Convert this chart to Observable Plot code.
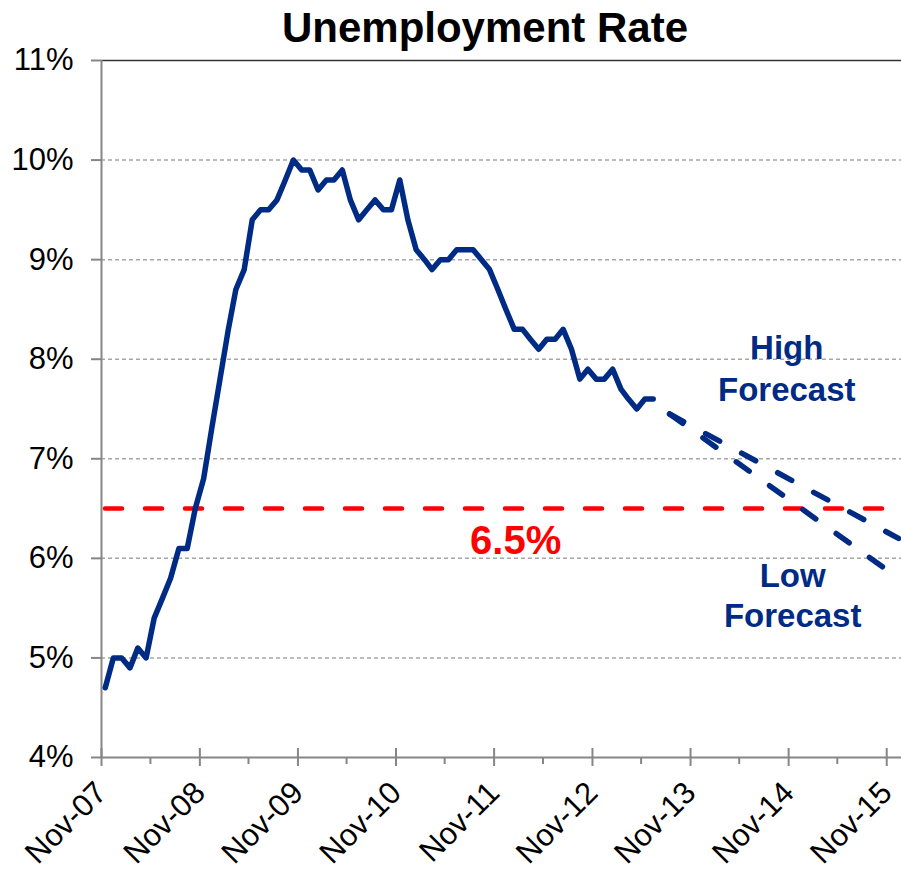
<!DOCTYPE html>
<html>
<head>
<meta charset="utf-8">
<script src="https://cdn.jsdelivr.net/npm/d3@7"></script>
<script src="https://cdn.jsdelivr.net/npm/@observablehq/plot@0.6"></script>
<style>
html, body { margin: 0; padding: 0; background: #fff; overflow: hidden; }
#wrap { position: relative; width: 901px; height: 870px; font-family: "Liberation Sans", Arial, sans-serif; }
#title { position: absolute; left: 185px; top: 7px; width: 600px; text-align: center; font-size: 42px; line-height: 42px; font-weight: bold; color: #000; }
</style>
</head>
<body>
<div id="wrap"><div id="chart"></div><div id="title">Unemployment Rate</div></div>
<script>
// Monthly unemployment rate (%), Nov 2007 – Jun 2013
const firstMonth = "2007-11";
const rate = [
  4.7, 5.0,
  5.0, 4.9, 5.1, 5.0, 5.4, 5.6, 5.8, 6.1, 6.1, 6.5, 6.8, 7.3,
  7.8, 8.3, 8.7, 8.9, 9.4, 9.5, 9.5, 9.6, 9.8, 10.0, 9.9, 9.9,
  9.7, 9.8, 9.8, 9.9, 9.6, 9.4, 9.5, 9.6, 9.5, 9.5, 9.8, 9.4,
  9.1, 9.0, 8.9, 9.0, 9.0, 9.1, 9.1, 9.1, 9.0, 8.9, 8.7, 8.5,
  8.3, 8.3, 8.2, 8.1, 8.2, 8.2, 8.3, 8.1, 7.8, 7.9, 7.8, 7.8,
  7.9, 7.7, 7.6, 7.5, 7.6, 7.6
];
// Forecast paths (start, end)
const forecastMonths = ["2013-08", "2015-12"];
const highForecast = [7.45, 6.2];
const lowForecast = [7.45, 5.8];
const threshold = 6.5;
const thresholdLabel = "6.5%";
// Axis ticks
const yTicks = [4, 5, 6, 7, 8, 9, 10, 11];
const xTickYears = [2007, 2008, 2009, 2010, 2011, 2012, 2013, 2014, 2015];
const xTickLabels = ["Nov-07", "Nov-08", "Nov-09", "Nov-10", "Nov-11", "Nov-12", "Nov-13", "Nov-14", "Nov-15"];
const minorTickYears = [2008, 2009, 2010, 2011, 2012, 2013, 2014, 2015];

const parseMonth = d3.utcParse("%Y-%m");
const mid = m => d3.utcDay.offset(parseMonth(m), 14);
const start = parseMonth(firstMonth);
const actual = rate.map((v, i) => ({date: d3.utcDay.offset(d3.utcMonth.offset(start, i), 14), value: v}));
const forecast = [
  ...forecastMonths.map((m, i) => ({date: mid(m), value: highForecast[i], series: "High"})),
  ...forecastMonths.map((m, i) => ({date: mid(m), value: lowForecast[i], series: "Low"}))
];
const xTicks = xTickYears.map(y => new Date(Date.UTC(y, 10, 1)));
const minorTicks = minorTickYears.map(y => new Date(Date.UTC(y, 4, 1)));

const navy = "#002b85";
const axisGray = "#868686";

const chart = Plot.plot({
  width: 901,
  height: 870,
  marginTop: 60,
  marginBottom: 113,
  marginLeft: 101,
  marginRight: 0,
  style: {fontFamily: "'Liberation Sans', Arial, sans-serif", background: "transparent", overflow: "visible"},
  x: {type: "utc", domain: [new Date(Date.UTC(2007, 10, 1)), new Date(Date.UTC(2015, 11, 26))]},
  y: {domain: [4, 11]},
  marks: [
    Plot.gridY(yTicks.filter(v => v > 4 && v < 11), {stroke: "#a6a6a6", strokeOpacity: 1, strokeWidth: 1.5, strokeDasharray: "4,3"}),
    Plot.ruleY([11], {stroke: "#333", strokeWidth: 1.5}),
    Plot.axisY(yTicks, {tickSize: 10, tickPadding: 18, fontSize: 31, tickFormat: d => d + "%", stroke: axisGray, strokeWidth: 2, fill: "#000", label: null}),
    Plot.axisX(xTicks, {tickSize: 0, tickPadding: 30, tickRotate: -45, fontSize: 31, tickFormat: (d, i) => xTickLabels[i], fill: "#000", label: null}),
    Plot.ruleX(xTicks, {x: d => d, stroke: axisGray, strokeWidth: 2, insetTop: 688, insetBottom: -9}),
    Plot.ruleX(minorTicks, {x: d => d, stroke: axisGray, strokeWidth: 2, insetTop: 697, insetBottom: -7}),
    Plot.ruleX([start], {stroke: axisGray, strokeWidth: 2}),
    Plot.ruleY([4], {stroke: axisGray, strokeWidth: 2}),
    Plot.ruleY([threshold], {stroke: "#ff0000", strokeWidth: 4.5, strokeDasharray: "17,23", strokeDashoffset: -4, strokeLinecap: "round"}),
    Plot.text([thresholdLabel], {x: () => new Date(Date.UTC(2012, 0, 20)), y: () => threshold, dy: 33, text: d => d, fill: "#ff0000", fontSize: 40, fontWeight: "bold", textAnchor: "middle", lineAnchor: "middle"}),
    Plot.line(actual, {x: "date", y: "value", stroke: navy, strokeWidth: 5.5, strokeLinejoin: "round", strokeLinecap: "round"}),
    Plot.line(forecast, {x: "date", y: "value", z: "series", stroke: navy, strokeWidth: 5.5, strokeDasharray: "16,25", strokeLinecap: "round"}),
    Plot.text(["High\nForecast"], {x: () => new Date(Date.UTC(2014, 9, 25)), y: () => 7.93, text: d => d, fill: navy, fontSize: 33, fontWeight: "bold", lineHeight: 1.28, textAnchor: "middle", lineAnchor: "middle"}),
    Plot.text(["Low\nForecast"], {x: () => new Date(Date.UTC(2014, 10, 16)), y: () => 5.64, text: d => d, fill: navy, fontSize: 33, fontWeight: "bold", lineHeight: 1.22, textAnchor: "middle", lineAnchor: "middle"})
  ]
});
document.getElementById("chart").appendChild(chart);
</script>
</body>
</html>
